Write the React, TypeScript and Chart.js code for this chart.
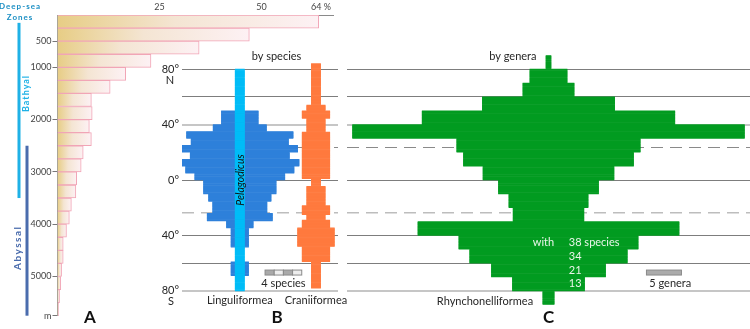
import { useEffect, useRef } from 'react';
import { Chart, registerables } from 'chart.js';

Chart.register(...registerables);

const FONT = 'Lato, "Open Sans", "DejaVu Sans", sans-serif';
const TEXT = '#262626';

// ---------- Panel A: depth distribution (% of species) ----------
const depthBinTop = [0, 250, 500, 750, 1000, 1250, 1500, 1750, 2000, 2250, 2500, 2750, 3000, 3250, 3500, 3750, 4000, 4250, 4500, 4750, 5000, 5250, 5500];
const depthSharePct = [64, 47, 34.7, 22.9, 16.7, 12.9, 8.3, 8.5, 7.8, 8.3, 6.3, 5.8, 4.7, 4.5, 3.4, 2.9, 2.2, 1.4, 1.4, 1.0, 0.8, 0.5, 0.3];
const depthTickValues = [500, 1000, 2000, 3000, 4000, 5000, 5750];
const shareTickValues = [25, 50, 64];
const zoneNames = ['Bathyal', 'Abyssal'];
const zoneTopDepth = [150, 2500];
const zoneBottomDepth = [3500, 5750];
const zoneLabelDepth = [1500, 4450];

// ---------- Panel B: by species ----------
const linguliformeaTop = [50, 40, 35, 30, 25, 20, 15, 10, 5, 0, -10, -15.5, -24, -29.5, -34.5, -59];
const linguliformeaBottom = [40, 35, 30, 25, 20, 15, 10, 5, 0, -10, -15.5, -24, -29.5, -34.5, -48.5, -69];
const linguliformeaSpecies = [4.0, 5.8, 11.6, 10.6, 12.6, 10.8, 12.9, 11.8, 9.8, 7.9, 6.8, 5.9, 7.1, 2.9, 1.9, 1.9];
const pelagodicusTop = [80];
const pelagodicusBottom = [-80];
const pelagodicusSpecies = [1];
const craniiformeaTop = [84, 54, 50, 44.5, 34.5, 1, -4.5, -18.5, -25, -29, -34.5, -48, -59];
const craniiformeaBottom = [54, 50, 44.5, 34.5, 1, -4.5, -18.5, -25, -29, -34.5, -48, -59, -78];
const craniiformeaSpecies = [1, 2, 3, 2, 3, 1, 2, 3, 2, 3, 4, 3, 1];
const craniiformeaCenter = 8.3;
const speciesScaleStart = 2.75;

// ---------- Panel C: by genera ----------
const rhynTop = [90, 80, 70, 60, 50, 40, 30, 20, 10, 0, -10, -20, -30, -40, -50, -60, -70, -80];
const rhynBottom = [80, 70, 60, 50, 40, 30, 20, 10, 0, -10, -20, -30, -40, -50, -60, -70, -80, -90];
const rhynGenera = [0.7, 5.3, 7.3, 18.9, 36.1, 56, 26.2, 24.3, 18.7, 14.3, 11.3, 10.1, 37.3, 25.6, 22.5, 16.3, 10.3, 1.6];
const speciesNoteLat = [-45, -55, -65, -75];
const speciesNotes = ['38 species', '34', '21', '13'];
const generaScaleStart = 14;
const generaScaleLength = 5;

// ---------- latitude axis ----------
const latLineValues = [80, 60, 40, 0, -40, -60, -80];
const tropicLat = [23.44, -23.44];
const LAT_STEP = 0.5;
const latCategories = Array.from({ length: 360 }, (_, i) => 90 - LAT_STEP * (i + 0.5));

function expandBins(tops: number[], bottoms: number[], counts: number[], center: number) {
  return latCategories.map((lat) => {
    for (let k = 0; k < tops.length; k++) {
      if (lat < tops[k] && lat > bottoms[k]) return [center - counts[k] / 2, center + counts[k] / 2];
    }
    return null;
  });
}

function latScales(showLabels: boolean, labelWidth: number) {
  return {
    y: { type: 'category', display: false, offset: true },
    yLat: {
      type: 'linear',
      position: 'left',
      min: -90,
      max: 90,
      offset: false,
      afterBuildTicks: (s: any) => { s.ticks = latLineValues.map((v) => ({ value: v })); },
      afterFit: (s: any) => { s.width = labelWidth; },
      ticks: {
        display: showLabels,
        autoSkip: false,
        padding: 3,
        color: TEXT,
        font: { size: 11, family: FONT },
        callback: (v: any) => (v === 60 || v === -60 ? '' : Math.abs(v) + '°'),
      },
      grid: {
        offset: false,
        drawTicks: false,
        color: (c: any) => (c.tick && (c.tick.value === 40 || c.tick.value === -80) ? '#c6c6c6' : '#7d7d7d'),
        lineWidth: (c: any) => (c.tick && (c.tick.value === 40 || c.tick.value === -80) ? 2 : 1),
      },
      border: { display: false },
    },
    yTropic: {
      type: 'linear',
      position: 'left',
      min: -90,
      max: 90,
      offset: false,
      afterBuildTicks: (s: any) => { s.ticks = tropicLat.map((v) => ({ value: v })); },
      afterFit: (s: any) => { s.width = 0; },
      ticks: { display: false },
      grid: {
        offset: false,
        drawTicks: false,
        color: (c: any) => (c.tick && c.tick.value > 0 ? '#8a8a8a' : '#bdbdbd'),
        lineWidth: (c: any) => (c.tick && c.tick.value > 0 ? 1 : 1.6),
      },
      border: { display: false, dash: [12, 7] },
    },
  };
}

const baseOptions = {
  responsive: false,
  maintainAspectRatio: false,
  animation: false as const,
  events: [] as any[],
  plugins: { legend: { display: false }, tooltip: { enabled: false } },
};

function panelLetter(ctx: CanvasRenderingContext2D, letter: string, x: number, y: number) {
  ctx.save();
  ctx.fillStyle = '#111';
  ctx.font = `bold 17px ${FONT}`;
  ctx.textAlign = 'center';
  ctx.textBaseline = 'middle';
  ctx.fillText(letter, x, y);
  ctx.restore();
}

// ---------- chart configs ----------
function configA(): any {
  const annotate = {
    id: 'zonesA',
    afterDraw(chart: any) {
      const ctx: any = chart.ctx;
      const ys = chart.scales.yDepth;
      ctx.save();
      ctx.textAlign = 'center';
      ctx.textBaseline = 'middle';
      ctx.fillStyle = '#1b8fc4';
      ctx.font = `bold 8px ${FONT}`;
      ctx.letterSpacing = '1px';
      ctx.fillText('Deep-sea', 20, 6);
      ctx.fillText('Zones', 20, 17);
      const lineX = [19, 27];
      const labelX = [26, 18];
      const colors = ['#1fb1e6', '#4a6cad'];
      const sizes = [9, 10];
      zoneNames.forEach((name, i) => {
        const y0 = ys.getPixelForValue(zoneTopDepth[i]);
        const y1 = ys.getPixelForValue(zoneBottomDepth[i]);
        ctx.fillStyle = colors[i];
        ctx.fillRect(lineX[i] - 1.5, y0, 3, y1 - y0);
        ctx.save();
        ctx.translate(labelX[i], ys.getPixelForValue(zoneLabelDepth[i]));
        ctx.rotate(-Math.PI / 2);
        ctx.font = `bold ${sizes[i]}px ${FONT}`;
        ctx.letterSpacing = i === 0 ? '1px' : '1.5px';
        ctx.fillText(name, 0, 0);
        ctx.restore();
      });
      ctx.letterSpacing = '0px';
      ctx.restore();
      panelLetter(ctx, 'A', 90, 318);
    },
  };
  return {
    type: 'bar',
    data: {
      labels: depthBinTop.map((d) => `${d}–${d + 250} m`),
      datasets: [
        {
          data: depthSharePct,
          backgroundColor: (c: any) => {
            const chart = c.chart;
            const xs = chart.scales && chart.scales.x;
            if (!xs || c.raw == null) return '#ead48f';
            const x0 = xs.getPixelForValue(0);
            const x1r = xs.getPixelForValue(c.raw);
            if (!Number.isFinite(x0) || !Number.isFinite(x1r)) return '#ead48f';
            const x1 = Math.max(x1r, x0 + 1);
            const g = chart.ctx.createLinearGradient(x0, 0, x1, 0);
            g.addColorStop(0, '#e7cd85');
            g.addColorStop(0.45, '#f4e5d3');
            g.addColorStop(1, '#fdf1f4');
            return g;
          },
          borderColor: '#f1a5b6',
          borderWidth: 1,
          barPercentage: 1,
          categoryPercentage: 1,
        },
      ],
    },
    options: {
      ...baseOptions,
      indexAxis: 'y',
      layout: { padding: { left: 0, top: 0, right: 417, bottom: 13.3 } },
      scales: {
        x: {
          type: 'linear',
          position: 'top',
          min: 0,
          max: 67.5,
          afterBuildTicks: (s: any) => { s.ticks = shareTickValues.map((v) => ({ value: v })); },
          afterFit: (s: any) => { s.height = 15; },
          ticks: {
            autoSkip: false,
            padding: 3,
            color: '#444',
            font: { size: 9, family: FONT },
            callback: (v: any) => (v === 64 ? '  64 %' : String(v)),
          },
          grid: { drawOnChartArea: false, drawTicks: false },
          border: { color: '#8a8a8a' },
        },
        y: { type: 'category', display: false, offset: true },
        yDepth: {
          type: 'linear',
          position: 'left',
          reverse: true,
          min: 0,
          max: 5750,
          offset: false,
          afterBuildTicks: (s: any) => { s.ticks = depthTickValues.map((v) => ({ value: v })); },
          afterFit: (s: any) => { s.width = 57.5; },
          ticks: {
            autoSkip: false,
            padding: 1,
            color: '#444',
            font: { size: 9, family: FONT },
            callback: (v: any) => (v === 5750 ? 'm' : String(v)),
          },
          grid: { offset: false, drawOnChartArea: false, drawTicks: true, tickLength: 5, tickColor: '#777' },
          border: { color: '#9a9a9a' },
        },
      },
    },
    plugins: [annotate],
  };
}

function configB(): any {
  const annotate = {
    id: 'textB',
    afterDatasetsDraw(chart: any) {
      const ctx: CanvasRenderingContext2D = chart.ctx;
      const xs = chart.scales.x;
      const ys = chart.scales.yLat;
      ctx.save();
      ctx.fillStyle = TEXT;
      ctx.textAlign = 'center';
      ctx.textBaseline = 'middle';
      ctx.font = `11px ${FONT}`;
      ctx.fillText('by species', xs.getPixelForValue(4.0), ys.getPixelForValue(89));
      ctx.fillText('N', chart.chartArea.left - 12, ys.getPixelForValue(80) + 11.5);
      ctx.fillText('S', chart.chartArea.left - 11, ys.getPixelForValue(-80) + 11);
      ctx.fillText('Linguliformea', xs.getPixelForValue(0), ys.getPixelForValue(-80) + 10);
      ctx.fillText('Craniiformea', xs.getPixelForValue(craniiformeaCenter), ys.getPixelForValue(-80) + 10);
      // Pelagodicus label
      ctx.save();
      ctx.translate(xs.getPixelForValue(0), ys.getPixelForValue(0));
      ctx.rotate(-Math.PI / 2);
      ctx.font = `italic 10.5px ${FONT}`;
      ctx.fillStyle = '#111';
      ctx.fillText('Pelagodicus', 0, 0.5);
      ctx.restore();
      // scale bar
      const y0 = ys.getPixelForValue(-65);
      const y1 = ys.getPixelForValue(-68.6);
      for (let k = 0; k < 4; k++) {
        const x0 = xs.getPixelForValue(speciesScaleStart + k);
        const x1 = xs.getPixelForValue(speciesScaleStart + k + 1);
        ctx.fillStyle = k % 2 === 0 ? '#a9a9a9' : '#ededed';
        ctx.fillRect(x0, y0, x1 - x0, y1 - y0);
        ctx.strokeStyle = '#8a8a8a';
        ctx.lineWidth = 1;
        ctx.strokeRect(x0, y0, x1 - x0, y1 - y0);
      }
      ctx.fillStyle = TEXT;
      ctx.fillText('4 species', xs.getPixelForValue(speciesScaleStart + 2), ys.getPixelForValue(-74.5));
      ctx.restore();
      panelLetter(ctx, 'B', xs.getPixelForValue(4.05), 318);
    },
  };
  return {
    type: 'bar',
    data: {
      labels: latCategories.map((l) => l.toFixed(2)),
      datasets: [
        {
          label: 'Pelagodicus',
          data: expandBins(pelagodicusTop, pelagodicusBottom, pelagodicusSpecies, 0),
          backgroundColor: '#00bdf7',
        },
        {
          label: 'Linguliformea',
          data: expandBins(linguliformeaTop, linguliformeaBottom, linguliformeaSpecies, 0),
          backgroundColor: '#2e80da',
        },
        {
          label: 'Craniiformea',
          data: expandBins(craniiformeaTop, craniiformeaBottom, craniiformeaSpecies, craniiformeaCenter),
          backgroundColor: '#ff7a3e',
        },
      ].map((d) => ({ ...d, borderWidth: 0, barPercentage: 1, categoryPercentage: 1, grouped: false })),
    },
    options: {
      ...baseOptions,
      indexAxis: 'y',
      layout: { padding: { left: 150, top: 55.3, right: 412, bottom: 24.3 } },
      scales: {
        x: { type: 'linear', display: false, min: -6.3, max: 10.7 },
        ...latScales(true, 32),
      },
    },
    plugins: [annotate],
  };
}

function configC(): any {
  const annotate = {
    id: 'textC',
    afterDatasetsDraw(chart: any) {
      const ctx: CanvasRenderingContext2D = chart.ctx;
      const xs = chart.scales.x;
      const ys = chart.scales.yLat;
      ctx.save();
      ctx.fillStyle = TEXT;
      ctx.textBaseline = 'middle';
      ctx.font = `11px ${FONT}`;
      ctx.textAlign = 'center';
      ctx.fillText('by genera', xs.getPixelForValue(-5.1), ys.getPixelForValue(89));
      ctx.textAlign = 'right';
      ctx.fillText('Rhynchonelliformea', xs.getPixelForValue(-2.2), ys.getPixelForValue(-80) + 10.7);
      ctx.fillStyle = '#eaf6ea';
      ctx.fillText('with', xs.getPixelForValue(0.8), ys.getPixelForValue(speciesNoteLat[0]));
      ctx.textAlign = 'left';
      speciesNotes.forEach((t, i) => ctx.fillText(t, xs.getPixelForValue(2.9), ys.getPixelForValue(speciesNoteLat[i])));
      // genera scale bar
      const x0 = xs.getPixelForValue(generaScaleStart);
      const x1 = xs.getPixelForValue(generaScaleStart + generaScaleLength);
      const y0 = ys.getPixelForValue(-65);
      const y1 = ys.getPixelForValue(-68.6);
      ctx.fillStyle = '#ababab';
      ctx.fillRect(x0, y0, x1 - x0, y1 - y0);
      ctx.strokeStyle = '#8a8a8a';
      ctx.lineWidth = 1;
      ctx.strokeRect(x0, y0, x1 - x0, y1 - y0);
      ctx.fillStyle = TEXT;
      ctx.fillText('5 genera', xs.getPixelForValue(generaScaleStart + 0.4), ys.getPixelForValue(-74.5));
      ctx.restore();
      panelLetter(ctx, 'C', xs.getPixelForValue(0), 318);
    },
  };
  return {
    type: 'bar',
    data: {
      labels: latCategories.map((l) => l.toFixed(2)),
      datasets: [
        {
          label: 'Rhynchonelliformea',
          data: expandBins(rhynTop, rhynBottom, rhynGenera, 0),
          backgroundColor: '#029b20',
          borderWidth: 0,
          barPercentage: 1,
          categoryPercentage: 1,
          grouped: false,
        },
      ],
    },
    options: {
      ...baseOptions,
      indexAxis: 'y',
      layout: { padding: { left: 347, top: 55.3, right: 0, bottom: 24.3 } },
      scales: {
        x: { type: 'linear', display: false, min: -28.8, max: 28.8 },
        ...latScales(false, 0),
      },
    },
    plugins: [annotate],
  };
}

export default function App() {
  const aRef = useRef<HTMLCanvasElement>(null);
  const bRef = useRef<HTMLCanvasElement>(null);
  const cRef = useRef<HTMLCanvasElement>(null);

  useEffect(() => {
    document.body.style.margin = '0';
    Chart.defaults.font.family = FONT;
    const charts = [
      new Chart(aRef.current as HTMLCanvasElement, configA()),
      new Chart(bRef.current as HTMLCanvasElement, configB()),
      new Chart(cRef.current as HTMLCanvasElement, configC()),
    ];
    return () => charts.forEach((c) => c.destroy());
  }, []);

  const style: any = { position: 'absolute', left: 0, top: 0, width: 750, height: 329 };
  return (
    <div style={{ position: 'fixed', left: 0, top: 0, width: 750, height: 329, background: '#fff', overflow: 'hidden' }}>
      <canvas ref={aRef} width={750} height={329} style={style} />
      <canvas ref={bRef} width={750} height={329} style={style} />
      <canvas ref={cRef} width={750} height={329} style={style} />
    </div>
  );
}
